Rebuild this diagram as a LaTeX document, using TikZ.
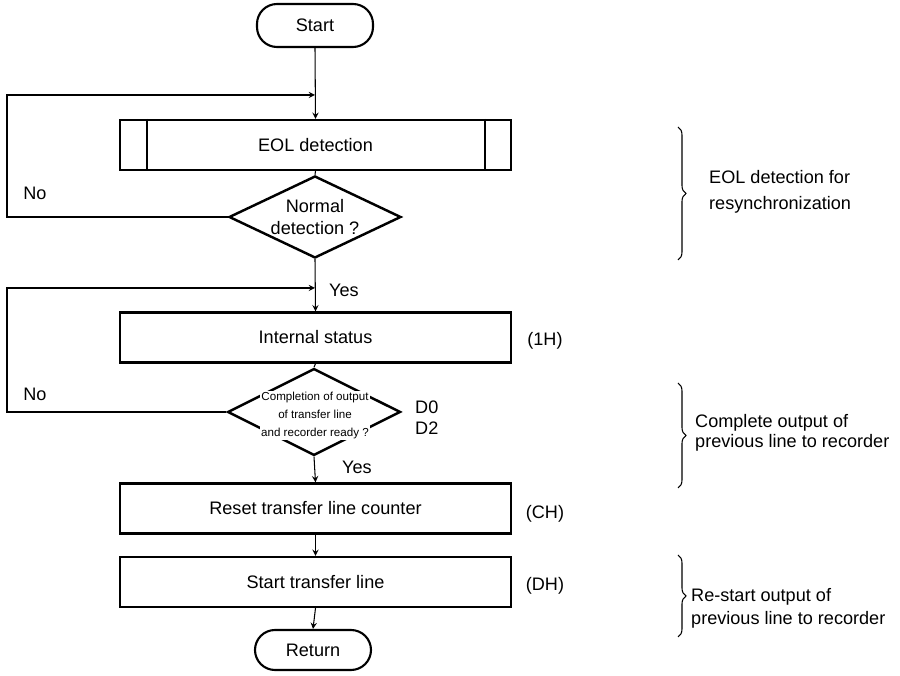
\documentclass[tikz,border=0pt]{standalone}
\usepackage{fontspec}
\setmainfont{Liberation Sans}
\usetikzlibrary{shapes,arrows,positioning,calc,decorations.pathreplacing}

\tikzset{
  terminal/.style={draw, line width=1.2pt, rounded corners=0.4cm, minimum width=2.32cm, minimum height=0.86cm, inner sep=0pt},
  process/.style={draw, line width=1.3pt, minimum width=7.82cm, minimum height=1.0cm, inner sep=0pt},
  decision/.style={draw, diamond, line width=1.4pt, aspect=2.1, inner sep=0pt, align=center},
  flow/.style={->, line width=0.6pt},
  note/.style={anchor=west, align=left},
  sidebrace/.style={decorate, decoration={brace, amplitude=0.16cm}, line width=0.6pt},
}

\begin{document}
\begin{tikzpicture}[>=stealth, font=\fontsize{10.3}{12.5}\selectfont]
    \useasboundingbox (0,0) rectangle (18,-13.52);

    % Main column
    \node[terminal] (start) at (6.3,-0.51) {Start};
    \coordinate (join1) at (6.3,-1.9);
    \node[process] (eol) at (6.31,-2.9) {EOL detection};
    \draw[line width=1.3pt] ($(eol.north west)+(0.56,0)$) -- ($(eol.south west)+(0.56,0)$);
    \draw[line width=1.3pt] ($(eol.north east)+(-0.54,0)$) -- ($(eol.south east)+(-0.54,0)$);
    \node[decision, minimum width=3.44cm, minimum height=1.64cm] (normal) at (6.3,-4.34) {Normal\\detection ?};

    \coordinate (join2) at (6.3,-5.76);
    \node[process] (status) at (6.31,-6.75) {Internal status};
    \node[decision, minimum width=3.46cm, minimum height=1.74cm] (ready) at (6.28,-8.24) {};
    \node[font=\fontsize{6.6}{10.5}\selectfont, fill=white, inner sep=0.5pt, align=center] (readytxt) at (6.3,-8.31)
        {Completion of output\\of transfer line\\and recorder ready ?};
    \node[process] (reset) at (6.31,-10.17) {Reset transfer line counter};
    \node[process] (xfer) at (6.31,-11.64) {Start transfer line};
    \node[terminal, minimum height=0.8cm] (return) at (6.26,-13.0) {Return};

    % Loop rail on the left
    \coordinate (loopl) at (0.14,0);

    % Connectors
    \draw[flow] (start.south) -- (eol.north);
    \draw[line width=0.6pt] (eol.south) -- (normal.north);
    \draw[flow] (normal.west) -- (normal.west -| loopl) |- (join1);
    \draw[flow] (normal.south) -- (status.north);
    \draw[line width=0.6pt] (status.south) -- (ready.north);
    \draw[flow] (ready.west) -- (ready.west -| loopl) |- (join2);
    \draw[flow] (ready.south) -- (reset.north);
    \draw[flow] (reset.south) -- (xfer.north);
    \draw[flow] (xfer.south) -- (return.north);

    % Branch labels
    \node (no1) at (0.7,-3.86) {No};
    \node (yes1) at (6.88,-5.8) {Yes};
    \node (no2) at (0.7,-7.88) {No};
    \node (yes2) at (7.14,-9.34) {Yes};
    \node[note, font=\fontsize{10.3}{12}\selectfont] (dbits) at (8.18,-8.35) {D0\\D2};

    % Command codes
    \node (code1) at (10.9,-6.82) {(1H)};
    \node (code2) at (10.9,-10.28) {(CH)};
    \node (code3) at (10.9,-11.72) {(DH)};

    % Braces and notes
    \draw[sidebrace] (13.56,-2.54) -- (13.56,-5.2);
    \node[note, font=\fontsize{10.3}{14.7}\selectfont] (eolnote) at (14.06,-3.84) {EOL detection for\\resynchronization};
    \draw[sidebrace] (13.56,-7.66) -- (13.56,-9.76);
    \node[note, font=\fontsize{10.3}{11.4}\selectfont] (cmpnote) at (13.78,-8.66) {Complete output of\\previous line to recorder};
    \draw[sidebrace] (13.56,-11.1) -- (13.56,-12.74);
    \node[note, font=\fontsize{10.3}{13}\selectfont] (rstnote) at (13.7,-12.17) {Re-start output of\\previous line to recorder};
\end{tikzpicture}
\end{document}
